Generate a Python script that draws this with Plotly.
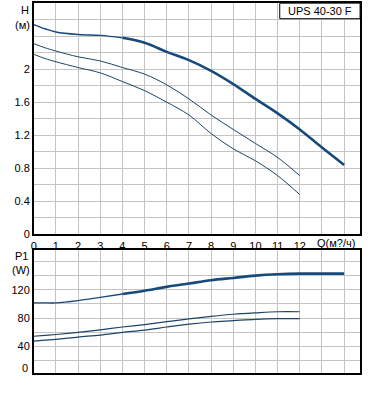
import plotly.graph_objects as go

W, H = 371, 414

# ---- Data ----
q_max = [0, 0.5, 1, 2, 3, 4, 5, 6, 7, 8, 9, 10, 11, 12, 13, 14]
h_max = [2.54, 2.49, 2.45, 2.42, 2.41, 2.38, 2.32, 2.21, 2.11, 1.98, 1.82, 1.64, 1.465, 1.27, 1.05, 0.84]

q_mid = [0, 0.5, 1, 2, 3, 4, 5, 6, 7, 8, 9, 10, 11, 12]
h_mid = [2.31, 2.26, 2.22, 2.15, 2.10, 2.02, 1.94, 1.81, 1.64, 1.445, 1.27, 1.10, 0.93, 0.71]

q_min = [0, 0.5, 1, 2, 3, 4, 5, 6, 7, 8, 9, 10, 11, 12]
h_min = [2.18, 2.13, 2.09, 2.02, 1.955, 1.85, 1.74, 1.60, 1.445, 1.22, 1.035, 0.89, 0.71, 0.48]

p_max = [101.5, 101.5, 101.5, 104.7, 109.3, 114, 118.6, 124, 128.7, 133.4, 136.6, 139.8, 141.7, 142.6, 142.6, 142.6]
p_mid = [54.5, 55.7, 57, 60, 63.5, 67.5, 71, 75, 79, 82.5, 85.5, 87.5, 89, 89]
p_min = [47.8, 49.0, 50.2, 53.4, 56.2, 59.9, 63.1, 67.5, 71.5, 74.6, 76.5, 78.4, 79.3, 79.3]

x_ticks = list(range(0, 15))
x_labels = [str(v) for v in range(0, 13)] + ["", ""]
h_ticks = [round(0.2 * i, 1) for i in range(0, 15)]
h_labels = ["0", "", "0.4", "", "0.8", "", "1.2", "", "1.6", "", "2", "", "", "", ""]
p_ticks = [20, 40, 60, 80, 100, 120, 140, 160]
p_labels = ["", "40", "", "80", "", "120", "", ""]

title_text = "UPS 40-30 F"
x_title = "Q(м?/ч)"

# ---- Layout helpers (reference pixel -> paper) ----
def px(x):
    return x / W

def py(y):
    return (H - y) / H

THICK = "#174a7c"
THIN = "#1d4468"
GRID = "#c4c4c4"
FONT = "Liberation Sans, Arial, sans-serif"
FS = 11

fig = go.Figure()

split = 6  # thinner start for the max-speed curve

def add_set(a, b, c, xa, ya, thin_w):
    fig.add_trace(go.Scatter(x=q_max[:split], y=a[:split], mode="lines",
                             line=dict(color=THICK, width=1.4, shape="spline"),
                             xaxis=xa, yaxis=ya, showlegend=False, hoverinfo="skip"))
    fig.add_trace(go.Scatter(x=q_max[split - 1:], y=a[split - 1:], mode="lines",
                             line=dict(color=THICK, width=2.6, shape="spline"),
                             xaxis=xa, yaxis=ya, showlegend=False, hoverinfo="skip"))
    fig.add_trace(go.Scatter(x=q_mid, y=b, mode="lines",
                             line=dict(color=THIN, width=thin_w, shape="spline"),
                             xaxis=xa, yaxis=ya, showlegend=False, hoverinfo="skip"))
    fig.add_trace(go.Scatter(x=q_min, y=c, mode="lines",
                             line=dict(color=THIN, width=thin_w, shape="spline"),
                             xaxis=xa, yaxis=ya, showlegend=False, hoverinfo="skip"))

add_set(h_max, h_mid, h_min, "x", "y", 1.0)
add_set(p_max, p_mid, p_min, "x2", "y2", 1.2)

x_dom = [px(31), px(360)]
x_range = [0, 14.72]

axis_common = dict(showline=True, linecolor="black", linewidth=1.5, mirror=True,
                   showgrid=True, gridcolor=GRID, gridwidth=1, zeroline=False,
                   ticks="", tickfont=dict(family=FONT, size=FS, color="black"))

fig.update_layout(
    width=W, height=H,
    margin=dict(l=0, r=0, t=0, b=0),
    paper_bgcolor="white", plot_bgcolor="white",
    font=dict(family=FONT, size=FS, color="black"),
    xaxis=dict(domain=x_dom, range=x_range, tickmode="array",
               tickvals=x_ticks, ticktext=x_labels, anchor="y",
               ticklabelstandoff=1, **axis_common),
    yaxis=dict(domain=[py(237.7), py(3.2)], range=[0, 2.8], tickmode="array",
               tickvals=h_ticks, ticktext=h_labels, anchor="x", **axis_common),
    xaxis2=dict(domain=x_dom, range=x_range, tickmode="array",
                tickvals=x_ticks, showticklabels=False, anchor="y2", **axis_common),
    yaxis2=dict(domain=[py(378), py(253.3)], range=[3.5, 176.4], tickmode="array",
                tickvals=p_ticks, ticktext=p_labels, anchor="x2", **axis_common),
)

annotations = [
    dict(text="H", x=px(28), y=py(10), xanchor="right", yanchor="middle"),
    dict(text="(м)", x=px(29), y=py(25), xanchor="right", yanchor="middle"),
    dict(text="P1", x=px(27.5), y=py(260), xanchor="right", yanchor="middle"),
    dict(text="(W)", x=px(29.5), y=py(274), xanchor="right", yanchor="middle"),
    dict(text="0", x=px(27), y=py(373), xanchor="right", yanchor="middle"),
    dict(text=x_title, x=px(357), y=py(246.5), xanchor="right", yanchor="middle"),
    dict(text=title_text, x=px(319.5), y=py(11), xanchor="center", yanchor="middle"),
]
for a in annotations:
    a.update(xref="paper", yref="paper", showarrow=False,
             font=dict(family=FONT, size=FS, color="black"))
fig.update_layout(annotations=annotations)

fig.add_shape(type="rect", xref="paper", yref="paper",
              x0=px(279), x1=px(360), y0=py(19), y1=py(3.2),
              line=dict(color="black", width=1), fillcolor="white", layer="above")

# remove the browser's default page margin so the figure sits at the window origin
fig.write_html("out.html",
               config={"displayModeBar": False},
               post_script="document.body.style.margin='0';document.body.style.overflow='hidden';")
